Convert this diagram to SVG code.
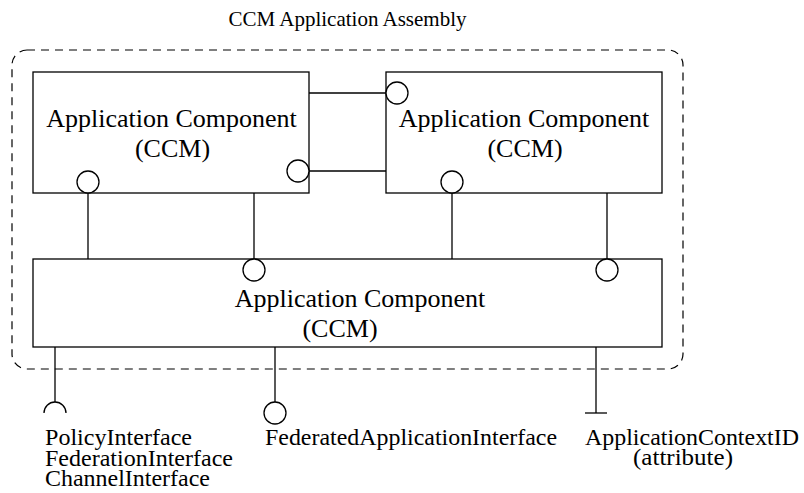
<svg xmlns="http://www.w3.org/2000/svg" width="804" height="493" viewBox="0 0 804 493">
<style>
  .box { fill: #fff; stroke: #000; stroke-width: 1.3; }
  .ln { stroke: #000; stroke-width: 1.3; fill: none; }
  .ifc { fill: #fff; stroke: #000; stroke-width: 1.3; }
  text { font-family: 'Liberation Serif', 'Times New Roman', Times, 'DejaVu Serif', serif; fill: #000; }
  .big { font-size: 26px; text-anchor: middle; }
  .lbl { font-size: 23px; }
</style>
<rect width="804" height="493" fill="#fff"/>
<g id="assembly">
  <rect x="12" y="50" width="671" height="319" rx="15" ry="15" fill="none" stroke="#000" stroke-width="1.2" stroke-dasharray="8,6"/>
  <text x="347.5" y="26" font-size="21" text-anchor="middle">CCM Application Assembly</text>
</g>
<g id="connectors">
  <line class="ln" x1="309" y1="93" x2="386" y2="93"/>
  <line class="ln" x1="309" y1="171" x2="386" y2="171"/>
  <line class="ln" x1="88" y1="193" x2="88" y2="259"/>
  <line class="ln" x1="254" y1="193" x2="254" y2="259"/>
  <line class="ln" x1="452" y1="193" x2="452" y2="259"/>
  <line class="ln" x1="607" y1="193" x2="607" y2="259"/>
  <line class="ln" x1="55" y1="347" x2="55" y2="402"/>
  <line class="ln" x1="275" y1="347" x2="275" y2="402"/>
  <line class="ln" x1="596" y1="347" x2="596" y2="413"/>
</g>
<g id="comp1">
  <rect class="box" x="33" y="72" width="276" height="121"/>
  <text class="big" x="171.5" y="127">Application Component</text>
  <text class="big" x="172.5" y="157">(CCM)</text>
  <circle class="ifc" cx="88" cy="182" r="11"/>
  <circle class="ifc" cx="298" cy="171" r="11"/>
</g>
<g id="comp2">
  <rect class="box" x="386" y="72" width="276" height="121"/>
  <text class="big" x="524" y="127">Application Component</text>
  <text class="big" x="525" y="157">(CCM)</text>
  <circle class="ifc" cx="397" cy="93" r="11"/>
  <circle class="ifc" cx="452" cy="182" r="11"/>
</g>
<g id="comp3">
  <rect class="box" x="33" y="259" width="629" height="88"/>
  <text class="big" x="360" y="307">Application Component</text>
  <text class="big" x="340" y="337">(CCM)</text>
  <circle class="ifc" cx="254" cy="270" r="11"/>
  <circle class="ifc" cx="607" cy="270" r="11"/>
</g>
<g id="policy">
  <path class="ln" d="M44,413 A11,11 0 0 1 66,413"/>
  <text class="lbl" x="45" y="445" textLength="147" lengthAdjust="spacingAndGlyphs">PolicyInterface</text>
  <text class="lbl" x="45" y="465.5" textLength="188" lengthAdjust="spacingAndGlyphs">FederationInterface</text>
  <text class="lbl" x="45" y="486" textLength="165" lengthAdjust="spacingAndGlyphs">ChannelInterface</text>
</g>
<g id="federated">
  <circle class="ifc" cx="275" cy="413" r="11"/>
  <text class="lbl" x="265" y="445" textLength="292" lengthAdjust="spacingAndGlyphs">FederatedApplicationInterface</text>
</g>
<g id="contextid">
  <line class="ln" x1="585" y1="413" x2="607" y2="413"/>
  <text class="lbl" x="585" y="445" textLength="214" lengthAdjust="spacingAndGlyphs">ApplicationContextID</text>
  <text class="lbl" x="633" y="465" textLength="100" lengthAdjust="spacingAndGlyphs">(attribute)</text>
</g>
</svg>
